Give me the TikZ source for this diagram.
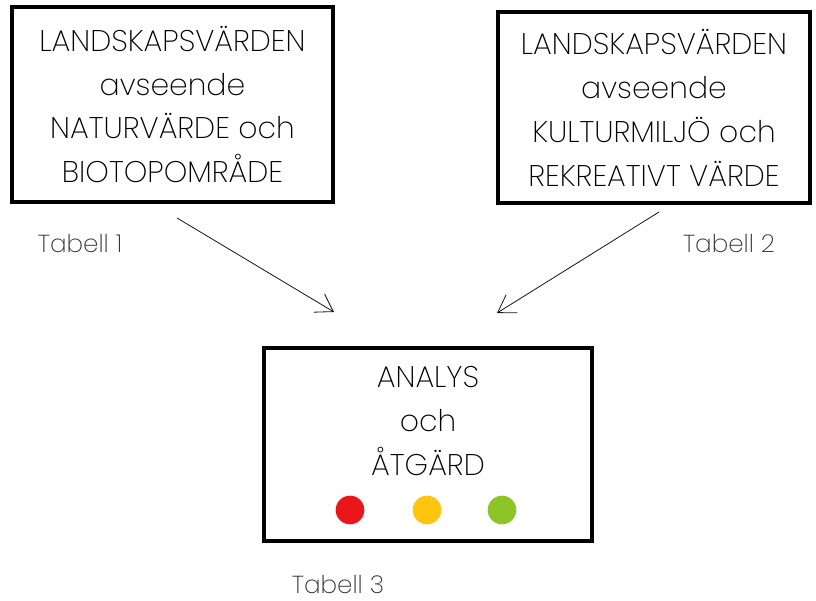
\documentclass[tikz,border=0pt]{standalone}
\usepackage{fontspec}
\setmainfont{Poppins}[UprightFont=* ExtraLight]
\usetikzlibrary{arrows.meta,positioning}

\definecolor{lampred}{RGB}{235,22,28}
\definecolor{lampyellow}{RGB}{255,196,14}
\definecolor{lampgreen}{RGB}{141,196,40}

\begin{document}
\begin{tikzpicture}[x=0.03cm,y=-0.03cm,
  valuebox/.style={draw,line width=2.8pt,inner sep=0pt},
  boxtext/.style={align=center,inner sep=0pt,font=\fontsize{25.5}{37.5}\selectfont},
  tabell/.style={inner sep=0pt,text=black!80,font=\fontsize{21}{25}\selectfont},
  flow/.style={line width=0.7pt,black!90,-{Straight Barb[length=5mm,width=6.4mm]}},
  lamp/.style={circle,inner sep=0pt,minimum size=0.86cm}]
  \useasboundingbox (0,0) rectangle (816,601);
  % boxes
  \node[valuebox,minimum width=9.63cm,minimum height=5.85cm] (natur) at (172.5,104.5) {};
  \node[valuebox,minimum width=9.36cm,minimum height=5.73cm] (kultur) at (654,107.5) {};
  \node[valuebox,minimum width=9.84cm,minimum height=5.79cm] (analys) at (428,444.5) {};
  % texts
  \node[boxtext] (naturtext) at (natur) {LANDSKAPSVÄRDEN\\avseende\\NATURVÄRDE och\\BIOTOPOMRÅDE};
  \node[boxtext] (kulturtext) at (kultur) {LANDSKAPSVÄRDEN\\avseende\\KULTURMILJÖ och\\REKREATIVT VÄRDE};
  \node[boxtext] (analystext) at (428,421) {ANALYS\\och\\ÅTGÄRD};
  \node[tabell] (tab1) at (80,243) {Tabell 1};
  \node[tabell] (tab2) at (729,243) {Tabell 2};
  \node[tabell] (tab3) at (338,584) {Tabell 3};
  % lamps
  \node[lamp,fill=lampred] (red) at (350,510) {};
  \node[lamp,fill=lampyellow] (yellow) at (427,510) {};
  \node[lamp,fill=lampgreen] (green) at (502,510) {};
  % arrows
  \coordinate (from1) at (177,218);
  \coordinate (to1) at (334,312);
  \coordinate (from2) at (659,212);
  \coordinate (to2) at (497,313);
  \draw[flow] (from1) -- (to1);
  \draw[flow] (from2) -- (to2);
\end{tikzpicture}
\end{document}
